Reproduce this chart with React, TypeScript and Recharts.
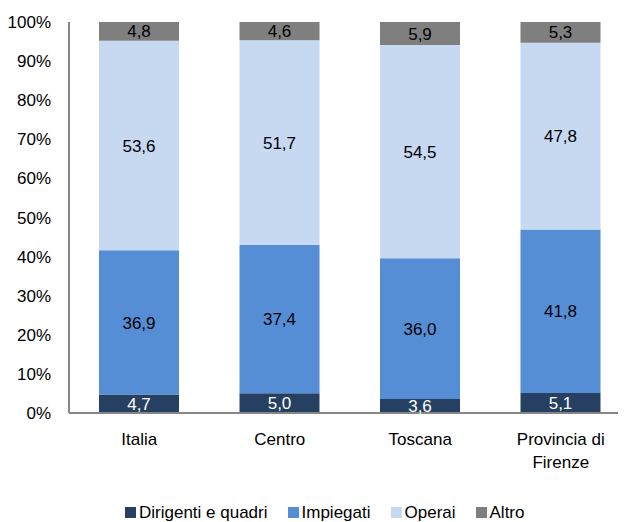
import React from 'react';
import { BarChart, Bar, XAxis, YAxis, LabelList, Text } from 'recharts';

const categories = ['Italia', 'Centro', 'Toscana', 'Provincia di Firenze'];
const dirigenti = [4.7, 5.0, 3.6, 5.1];
const impiegati = [36.9, 37.4, 36.0, 41.8];
const operai = [53.6, 51.7, 54.5, 47.8];
const altro = [4.8, 4.6, 5.9, 5.3];
const yTicks = [0, 0.1, 0.2, 0.3, 0.4, 0.5, 0.6, 0.7, 0.8, 0.9, 1];

const series = [
  { key: 'dirigenti', name: 'Dirigenti e quadri', color: '#254061', label: '#ffffff' },
  { key: 'impiegati', name: 'Impiegati', color: '#558ed5', label: '#000000' },
  { key: 'operai', name: 'Operai', color: '#c6d9f1', label: '#000000' },
  { key: 'altro', name: 'Altro', color: '#7f7f7f', label: '#000000' },
];

const data = categories.map((name, i) => ({
  name,
  dirigenti: dirigenti[i],
  impiegati: impiegati[i],
  operai: operai[i],
  altro: altro[i],
}));

const FONT = '"Liberation Sans", Arial, sans-serif';
const fmt = (v: any) => Number(v).toFixed(1).replace('.', ',');

const CategoryTick = (props: any) => {
  const { x, y, payload } = props;
  return (
    <Text
      x={x}
      y={y}
      width={120}
      textAnchor="middle"
      verticalAnchor="start"
      lineHeight={23}
      fontSize={17}
      fontFamily={FONT}
      fill="#000"
    >
      {payload.value}
    </Text>
  );
};

export default function App() {
  return (
    <div style={{ position: 'relative', width: 618, height: 514, overflow: 'hidden', fontFamily: FONT }}>
      <BarChart
        width={632}
        height={514}
        data={data}
        stackOffset="expand"
        margin={{ top: 14, right: 9, bottom: 79, left: 0 }}
      >
        <XAxis
          dataKey="name"
          height={30}
          tickLine={false}
          tickSize={0}
          tickMargin={20}
          axisLine={{ stroke: '#868686', strokeWidth: 2 }}
          tick={<CategoryTick />}
          interval={0}
        />
        <YAxis
          width={61}
          domain={[0, 1]}
          ticks={yTicks}
          tickFormatter={(v: number) => `${Math.round(v * 100)}%`}
          tickLine={false}
          tickSize={0}
          tickMargin={18}
          axisLine={{ stroke: '#868686', strokeWidth: 2 }}
          tick={{ fontSize: 17, fill: '#000', fontFamily: FONT }}
          interval={0}
        />
        {series.map((s) => (
          <Bar key={s.key} dataKey={s.key} name={s.name} stackId="a" fill={s.color} barSize={80} isAnimationActive={false}>
            <LabelList
              dataKey={s.key}
              position="center"
              formatter={fmt}
              fill={s.label}
              fontSize={17}
              fontFamily={FONT}
            />
          </Bar>
        ))}
      </BarChart>
      <div
        style={{
          position: 'absolute',
          left: 117,
          top: 496,
          display: 'flex',
          alignItems: 'center',
          gap: 20,
          fontSize: 17,
          lineHeight: '17px',
          color: '#000',
          whiteSpace: 'nowrap',
        }}
      >
        {series.map((s) => (
          <div key={s.key} style={{ display: 'flex', alignItems: 'center' }}>
            <span style={{ display: 'inline-block', width: 11, height: 11, background: s.color, marginRight: 3 }} />
            <span>{s.name}</span>
          </div>
        ))}
      </div>
    </div>
  );
}
